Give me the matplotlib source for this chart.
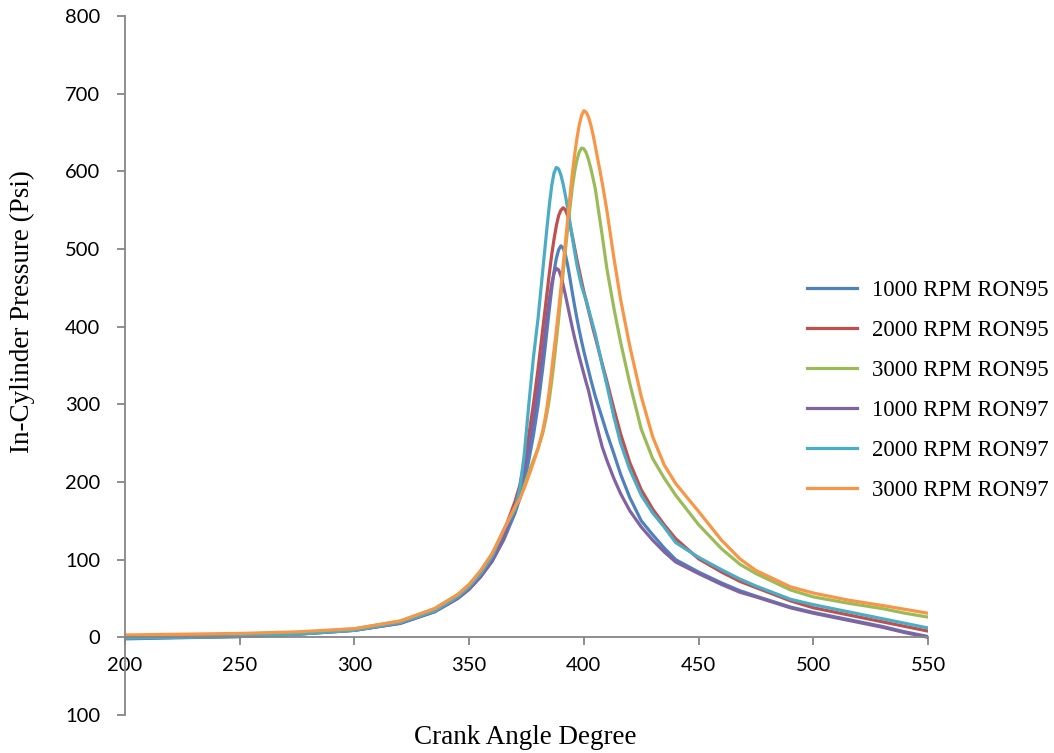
import numpy as np
import matplotlib.pyplot as plt

# crank angle points shared by every series (denser around the peaks)
angle = [200, 250, 275, 300, 320, 335, 345, 350, 355, 360, 365, 370, 372, 374, 376, 378, 380, 382,
         383, 384, 385, 386, 387, 388, 389, 390, 391, 392, 393, 394, 395, 396, 397, 398, 399, 400,
         401, 402, 403, 404, 405,
         408, 410, 413, 416, 420, 425, 430, 435, 440, 450, 460, 468, 475, 490, 500, 515, 530, 540, 550]

rpm1000_ron95 = [-2, 1, 4, 9, 18, 33, 50, 62, 78, 98, 125, 160, 178, 200, 228, 260, 298, 345,
                 370, 397, 424, 449, 471, 488, 499, 504, 501, 492, 478, 461, 443, 426, 410, 395, 381, 368,
                 356, 344, 332, 321, 310,
                 282, 263, 237, 210, 180, 150, 132, 115, 100, 84, 70, 60, 53, 39, 32, 23, 14, 7, 1]
rpm2000_ron95 = [0, 2, 5, 10, 20, 35, 53, 66, 83, 105, 135, 175, 195, 225, 260, 300, 345, 395,
                 420, 445, 470, 493, 513, 530, 543, 550, 553, 550, 542, 530, 516, 501, 486, 472, 458, 445,
                 433, 421, 409, 397, 386,
                 352, 330, 295, 262, 225, 190, 165, 145, 127, 101, 84, 72, 64, 47, 38, 29, 20, 14, 8]
rpm3000_ron95 = [2, 4, 6, 11, 21, 37, 55, 68, 85, 107, 136, 168, 178, 195, 212, 228, 243, 262,
                 275, 290, 308, 330, 355, 382, 410, 440, 470, 500, 528, 555, 580, 600, 615, 625, 630, 629,
                 624, 615, 604, 591, 577,
                 517, 475, 425, 380, 327, 268, 230, 205, 183, 145, 114, 94, 82, 61, 52, 44, 37, 31, 26]
rpm1000_ron97 = [-1, 1, 4, 9, 18, 33, 50, 62, 78, 98, 127, 170, 190, 215, 245, 280, 320, 365,
                 390, 415, 437, 456, 469, 475, 473, 465, 453, 440, 426, 412, 398, 385, 373, 361, 350, 339,
                 328, 318, 305, 292, 279,
                 245, 228, 205, 185, 163, 142, 125, 110, 97, 82, 68, 58, 52, 38, 31, 22, 13, 6, 0]
rpm2000_ron97 = [-1, 1, 4, 9, 19, 34, 52, 65, 82, 104, 138, 165, 190, 235, 300, 360, 410, 470,
                 500, 530, 558, 582, 598, 605, 603, 595, 583, 568, 551, 533, 514, 496, 479, 465, 452, 443,
                 434, 423, 412, 401, 390,
                 350, 325, 285, 250, 216, 183, 160, 142, 122, 103, 87, 75, 66, 49, 42, 33, 24, 18, 12]
rpm3000_ron97 = [3, 5, 7, 11, 21, 37, 55, 68, 86, 108, 138, 168, 178, 192, 208, 225, 243, 265,
                 280, 298, 320, 345, 370, 395, 422, 450, 480, 510, 540, 570, 598, 622, 643, 660, 672, 678,
                 676, 670, 660, 647, 632,
                 585, 550, 490, 435, 375, 310, 258, 222, 198, 162, 125, 101, 86, 65, 57, 48, 41, 36, 31]

labels = ['1000 RPM RON95', '2000 RPM RON95', '3000 RPM RON95',
          '1000 RPM RON97', '2000 RPM RON97', '3000 RPM RON97']
series = [rpm1000_ron95, rpm2000_ron95, rpm3000_ron95,
          rpm1000_ron97, rpm2000_ron97, rpm3000_ron97]
colors = ['#4F81BD', '#C0504D', '#9BBB59', '#8064A2', '#4BACC6', '#F79646']

yticks = [-100, 0, 100, 200, 300, 400, 500, 600, 700, 800]
ytick_labels = ['100', '0', '100', '200', '300', '400', '500', '600', '700', '800']
xticks = [200, 250, 300, 350, 400, 450, 500, 550]

fig = plt.figure(figsize=(10.54, 7.53), dpi=100)
ax = fig.add_axes([0.1186, 0.0505, 0.7619, 0.9283])

for vals, lab, col in zip(series, labels, colors):
    ax.plot(angle, vals, color=col, lw=2.3, label=lab, solid_joinstyle='round')

ax.set_xlim(200, 550)
ax.set_ylim(-100, 800)

ax.spines['top'].set_visible(False)
ax.spines['right'].set_visible(False)
ax.spines['bottom'].set_position(('data', 0))
for s in ['left', 'bottom']:
    ax.spines[s].set_color('#868686')
    ax.spines[s].set_linewidth(1.3)

ax.set_xticks(xticks)
ax.set_yticks(yticks)
ax.set_yticklabels(ytick_labels)
ax.tick_params(axis='both', colors='#868686', length=6, width=1.3, labelcolor='black',
               labelsize=14.5)
ax.tick_params(axis='x', pad=8)
ax.tick_params(axis='y', pad=12)
for t in ax.get_xticklabels() + ax.get_yticklabels():
    t.set_fontfamily('Lato')

fig.text(0.498, 0.020, 'Crank Angle Degree', family='Liberation Serif', fontsize=19.5,
         ha='center', va='center')
fig.text(0.021, 0.586, 'In-Cylinder Pressure (Psi)', family='Liberation Serif', fontsize=19.5,
         rotation=90, ha='center', va='center')

fig.legend(loc='upper left', bbox_to_anchor=(807 / 1054, 1 - 280 / 753), frameon=False,
           borderpad=0, borderaxespad=0,
           prop={'family': 'Liberation Serif', 'size': 16.5}, handlelength=2.2,
           handletextpad=0.65, labelspacing=0.83)

fig.savefig('out.png', dpi=100)
